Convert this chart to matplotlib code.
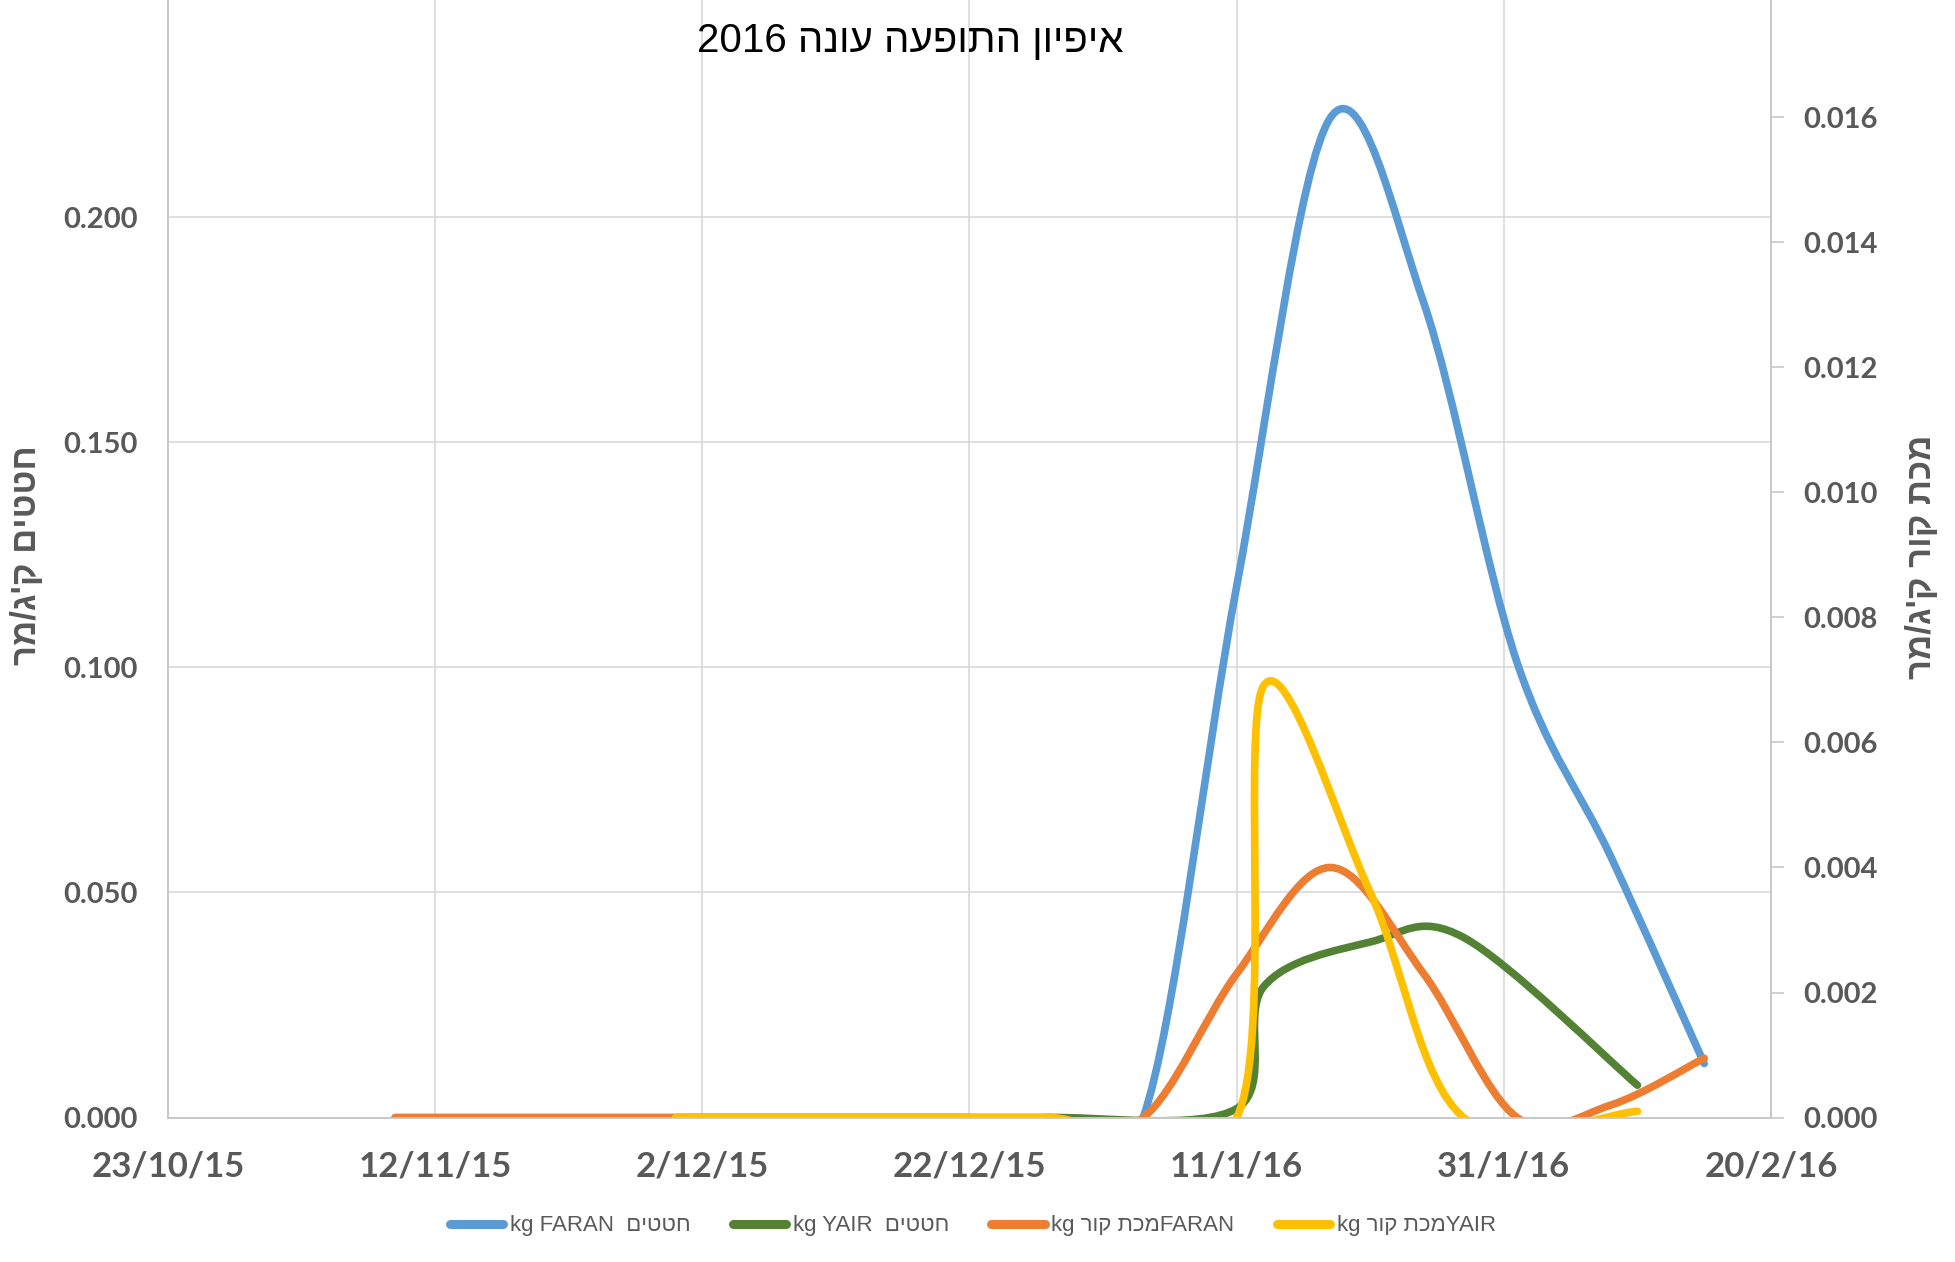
import datetime as dt
import matplotlib
matplotlib.use('Agg')
import matplotlib.pyplot as plt
import matplotlib.dates as mdates
from matplotlib.path import Path
from matplotlib.patches import PathPatch
from matplotlib.lines import Line2D
from matplotlib.ticker import FuncFormatter

# sampling dates (FARAN weekly, YAIR irregular)
faran_dates = ['2015-11-09', '2015-11-16', '2015-11-23', '2015-11-30', '2015-12-07',
               '2015-12-14', '2015-12-21', '2015-12-28', '2016-01-04', '2016-01-11',
               '2016-01-18', '2016-01-25', '2016-02-01', '2016-02-08', '2016-02-15']
yair_dates = ['2015-11-30', '2015-12-07', '2015-12-14', '2015-12-21', '2015-12-28',
              '2016-01-11', '2016-01-13', '2016-01-21', '2016-01-28', '2016-02-10']

# left axis: chatatim kg/m
faran_chatatim = [0, 0, 0, 0, 0, 0, 0, 0, 0, 0.118, 0.222, 0.181, 0.101, 0.058, 0.012]
yair_chatatim = [0, 0, 0, 0, 0, 0.002, 0.029, 0.039, 0.040, 0.0072]
# right axis: makat kor kg/m
faran_kor = [0, 0, 0, 0, 0, 0, 0, 0, 0, 0.0023, 0.0040, 0.0023, 0.0, 0.0002, 0.00095]
yair_kor = [0, 0, 0, 0, 0, 0, 0.0069, 0.0036, 0.0, 0.0001]

labels = ['kg FARAN  חטטים', 'kg YAIR  חטטים', 'kg מכת קורFARAN', 'kg מכת קורYAIR']
colors = ['#5B9BD5', '#548235', '#ED7D31', '#FFC000']

x_start, x_end = '2015-10-23', '2016-02-20'
GREY = '#595959'
HEB = ['Liberation Sans', 'DejaVu Sans']


def is_heb(c):
    return '\u0590' <= c <= '\u05FF'


def vis(s):
    # matplotlib has no bidi: reverse each run of Hebrew letters for display
    out, i = [], 0
    while i < len(s):
        if is_heb(s[i]):
            j = i
            while j < len(s) and (is_heb(s[j]) or (s[j] in " '/" and j + 1 < len(s)
                                                   and is_heb(s[j + 1]))):
                j += 1
            out.append(s[i:j][::-1])
            i = j
        else:
            out.append(s[i])
            i += 1
    return ''.join(out)


def smooth_path(dates, vals):
    # excel style smoothed line: cubic bezier through the points
    xs = [mdates.date2num(dt.date.fromisoformat(d)) for d in dates]
    ys = list(vals)
    n = len(xs)
    verts, codes = [(xs[0], ys[0])], [Path.MOVETO]
    for i in range(n - 1):
        a = i - 1 if i > 0 else i
        b = i + 2 if i + 2 < n else i + 1
        c1 = (xs[i] + (xs[i + 1] - xs[a]) / 6, ys[i] + (ys[i + 1] - ys[a]) / 6)
        c2 = (xs[i + 1] - (xs[b] - xs[i]) / 6, ys[i + 1] - (ys[b] - ys[i]) / 6)
        verts += [c1, c2, (xs[i + 1], ys[i + 1])]
        codes += [Path.CURVE4] * 3
    return Path(verts, codes)


W, H = 1955, 1262
fig = plt.figure(figsize=(W / 100, H / 100), dpi=100)
left, right, bottom, top = 168, 1771, 1117.6, -8
ax = fig.add_axes([left / W, 1 - bottom / H, (right - left) / W, (bottom - top) / H])
ax2 = ax.twinx()

lw = 5.5
for dates, vals, c in [(faran_dates, faran_chatatim, colors[0]), (yair_dates, yair_chatatim, colors[1])]:
    ax.add_patch(PathPatch(smooth_path(dates, vals), fill=False, edgecolor=c, lw=lw,
                           capstyle='round', joinstyle='round'))
for dates, vals, c in [(faran_dates, faran_kor, colors[2]), (yair_dates, yair_kor, colors[3])]:
    ax2.add_patch(PathPatch(smooth_path(dates, vals), fill=False, edgecolor=c, lw=lw,
                            capstyle='round', joinstyle='round'))

x0 = dt.date.fromisoformat(x_start)
x1 = dt.date.fromisoformat(x_end)
ax.set_xlim(mdates.date2num(x0), mdates.date2num(x1))
ax.set_xticks([mdates.date2num(x0 + dt.timedelta(days=20 * k)) for k in range(7)])
ax.xaxis.set_major_formatter(FuncFormatter(
    lambda v, p: (lambda d: f'{d.day}/{d.month}/{d:%y}')(mdates.num2date(v))))

ax.set_ylim(0, 0.25)
ax.set_yticks([0, 0.05, 0.1, 0.15, 0.2])
ax2.set_ylim(0, 0.018)
ax2.set_yticks([0.002 * k for k in range(9)])
ax.yaxis.set_major_formatter(FuncFormatter(lambda v, p: f'{v:.3f}'))
ax2.yaxis.set_major_formatter(FuncFormatter(lambda v, p: f'{v:.3f}'))

ax.grid(True, color='#d9d9d9', lw=1.2)
ax.set_axisbelow(True)
for a in (ax, ax2):
    a.spines['top'].set_visible(False)
    for s in ('left', 'right', 'bottom'):
        a.spines[s].set_color('#c8c8c8')
        a.spines[s].set_linewidth(1.2)

ax.tick_params(axis='x', length=0, pad=24, labelsize=25, labelcolor=GREY)
ax.tick_params(axis='y', length=0, pad=22, labelsize=21, labelcolor=GREY)
ax2.tick_params(axis='y', length=9, width=1.2, color='#c8c8c8', pad=14,
                labelsize=21, labelcolor=GREY)
for t in ax.get_xticklabels() + ax.get_yticklabels() + ax2.get_yticklabels():
    t.set_fontfamily('Lato')
    t.set_fontweight('bold')

fig.text(910 / W, 1 - 41 / H, vis('2016 איפיון התופעה עונה'), ha='center', va='center',
         fontsize=29, family=HEB, color='black')
fig.text(27 / W, 1 - 555 / H, vis("חטטים ק'ג/מר"), rotation=90, ha='center', va='center',
         fontsize=25, fontweight='bold', family=HEB, color=GREY)
fig.text(1921 / W, 1 - 557 / H, vis("מכת קור ק'ג/מר"), rotation=90, ha='center', va='center',
         fontsize=25, fontweight='bold', family=HEB, color=GREY)

handles = [Line2D([], [], color=c, lw=lw + 1, solid_capstyle='round') for c in colors]
leg = fig.legend(handles, [vis(l) for l in labels], loc='center', ncol=4,
                 bbox_to_anchor=(973 / W, 1 - 1226 / H), frameon=False,
                 prop={'family': HEB, 'size': 16}, handlelength=2.4,
                 handletextpad=0.3, columnspacing=1.9)
for t in leg.get_texts():
    t.set_color(GREY)

fig.savefig('out.png', dpi=100)
